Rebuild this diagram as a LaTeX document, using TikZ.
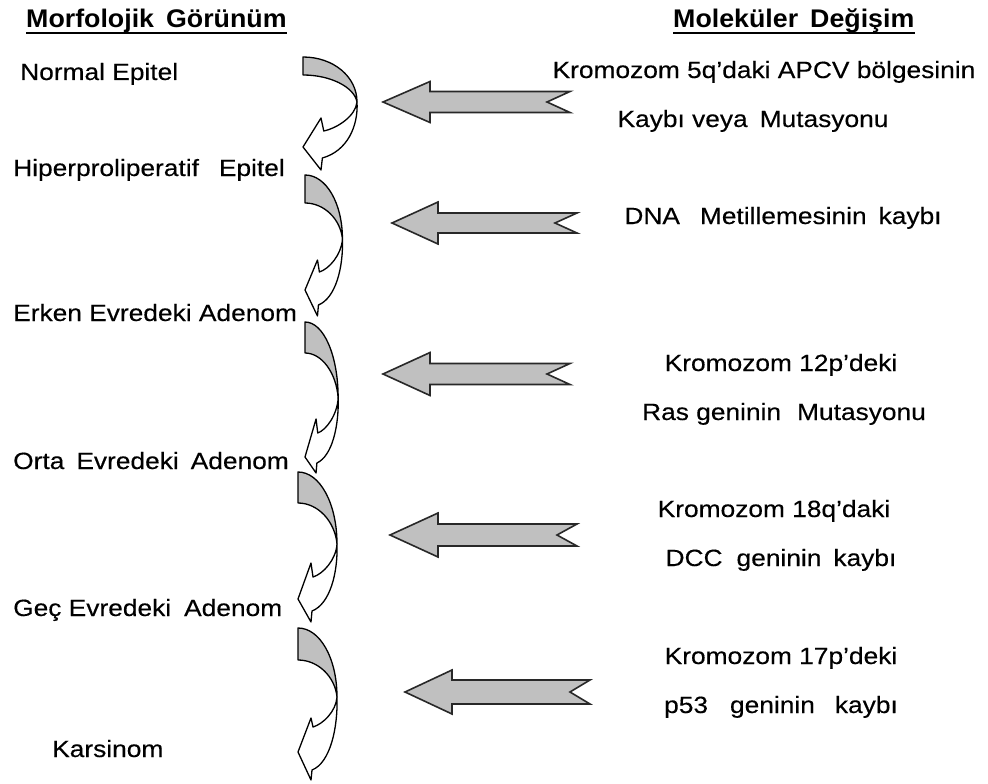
\documentclass[tikz,border=0pt]{standalone}
\usepackage{fontspec}
\setmainfont{Liberation Sans}[FakeStretch=1.12, FakeBold=0.3]
\newfontfamily\headfont{Liberation Sans}[FakeStretch=1.05]
\definecolor{fillgray}{RGB}{192,192,192}
\definecolor{linegray}{RGB}{40,40,40}
\tikzset{
  lbl/.style={font=\fontsize{23.5}{28}\selectfont, inner sep=0pt, text=black},
  lft/.style={lbl, anchor=base west},
  rgt/.style={lbl, anchor=base},
  head/.style={font=\headfont\fontsize{25.5}{30}\selectfont\bfseries, inner sep=0pt, anchor=base west},
  ul/.style={line width=2.4pt},
  blk/.style={fill=fillgray, draw=linegray, line width=1.6pt, line join=miter},
  twg/.style={fill=fillgray, draw=black, line width=1.3pt, line join=round},
  tww/.style={fill=white, draw=black, line width=1.3pt, line join=round},
}
% tipx tipy headback headhalf shafthalf tailx notchx
\newcommand{\blockarrow}[7]{%
  \filldraw[blk] (#1,#2) -- (#3,{#2-#4}) -- (#3,{#2-#5}) -- (#6,{#2-#5}) -- (#7,#2)
    -- (#6,{#2+#5}) -- (#3,{#2+#5}) -- (#3,{#2+#4}) -- cycle;}
% B X P1 P1b T P2 Q
\newcommand{\twist}[7]{%
  \filldraw[twg] (0,0) .. controls (22,0) and (39,{0.44*#2}) .. (39,#2)
    .. controls (37,{#1+0.45*(#2-#1)}) and (20,#1) .. (0,#1) -- cycle;
  \filldraw[tww] (39,#2) .. controls (38,{#2+0.48*(#4-#2)}) and (25,{#4-3}) .. (15,#4)
    -- (13,#3) -- (0,#5) -- (13,#6) -- (14,#7)
    .. controls (32,{#7-7}) and (40,{#2+0.43*(#7-#2)}) .. (39,#2) -- cycle;}
\begin{document}
\begin{tikzpicture}[x=1pt, y=-1pt]
\useasboundingbox[fill=white] (0,0) rectangle (988,784);

% headings
\node[head] (h1) at (26,28) {Morfolojik\hspace{12pt}Görünüm};
\draw[ul] ([yshift=-5pt]h1.base west) -- ([yshift=-5pt]h1.base east);
\node[head] (h2) at (673,28) {Moleküler\hspace{12pt}Değişim};
\draw[ul] ([yshift=-5pt]h2.base west) -- ([yshift=-5pt]h2.base east);

% left column
\node[lft] (l1) at (20,80) {Normal Epitel};
\node[lft] (l2) at (13,176) {Hiperproliperatif\hspace{20pt}Epitel};
\node[lft] (l3) at (13,321) {Erken Evredeki Adenom};
\node[lft] (l4) at (13,469) {Orta\hspace{12pt}Evredeki\hspace{12pt}Adenom};
\node[lft] (l5) at (13,616) {Geç Evredeki\hspace{13pt}Adenom};
\node[lft] (l6) at (52,757) {Karsinom};

% right column
\node[rgt] (r1a) at (764,78) {Kromozom 5q’daki APCV bölgesinin};
\node[rgt] (r1b) at (753,127) {Kaybı veya\hspace{12pt}Mutasyonu};
\node[rgt] (r2) at (783,224) {DNA\hspace{20pt}Metillemesinin\hspace{12pt}kaybı};
\node[rgt] (r3a) at (781,371) {Kromozom 12p’deki};
\node[rgt] (r3b) at (784,420) {Ras geninin\hspace{16pt}Mutasyonu};
\node[rgt] (r4a) at (774,517) {Kromozom 18q’daki};
\node[rgt] (r4b) at (781,566) {DCC\hspace{14pt}geninin\hspace{12pt}kaybı};
\node[rgt] (r5a) at (781,664) {Kromozom 17p’deki};
\node[rgt] (r5b) at (781,713) {p53\hspace{22pt}geninin\hspace{20pt}kaybı};

% straight block arrows
\blockarrow{383}{102}{430}{20.5}{10.5}{570}{547}
\blockarrow{392}{223}{438}{21}{10}{577}{555}
\blockarrow{383}{374}{430}{21.5}{10.5}{570}{547}
\blockarrow{390}{535}{438}{22}{11}{577}{557}
\blockarrow{405}{692}{452}{22}{12}{590}{570}

% twisted curved arrows
\begin{scope}[shift={(303,57)}, xscale=1.385]
  \twist{18}{45}{61}{74}{90}{113}{101}
\end{scope}
\begin{scope}[shift={(305,175)}, xscale=0.96]
  \twist{28}{64}{85}{97}{115}{141}{130}
\end{scope}
\begin{scope}[shift={(305,322)}, xscale=0.85]
  \twist{31}{76}{97}{111}{135}{151}{141}
\end{scope}
\begin{scope}[shift={(298,472)}, xscale=1.0]
  \twist{31}{72}{91}{105}{127}{150}{139}
\end{scope}
\begin{scope}[shift={(298,628)}, xscale=1.0]
  \twist{32}{69}{90}{99}{124}{152}{142}
\end{scope}
\end{tikzpicture}
\end{document}
